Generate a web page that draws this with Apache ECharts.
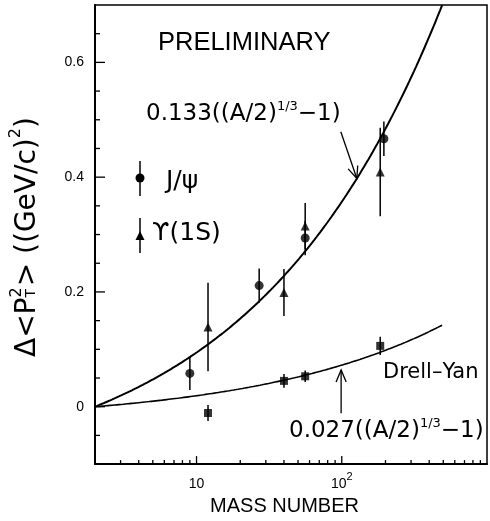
<!DOCTYPE html>
<html>
<head>
<meta charset="utf-8">
<script src="https://cdn.jsdelivr.net/npm/echarts@6/dist/echarts.min.js"></script>
<style>
  html, body { margin: 0; padding: 0; background: #fff; }
  #chart { width: 490px; height: 521px; }
</style>
</head>
<body>
<div id="chart"></div>
<script>
// Broadening of <pT^2> versus target mass number
const massJpsi = [9, 27, 56, 195];
const dptJpsi  = [0.058, 0.211, 0.294, 0.467];
const errJpsi  = [0.029, 0.030, 0.030, 0.030];

const massUpsilon = [12, 40, 56, 184];
const dptUpsilon  = [0.139, 0.199, 0.315, 0.409];
const errUpsilon  = [0.077, 0.041, 0.040, 0.077];

const massDY = [12, 40, 56, 184];
const dptDY  = [-0.011, 0.045, 0.053, 0.106];
const errDY  = [0.014, 0.012, 0.010, 0.016];

// fit curves c * ((A/2)^(1/3) - 1)
const fitQuarkonium = 0.133;
const fitDrellYan = 0.027;
const fitMassRange = [2, 491];

// axis ticks
const xRange = [2, 1000];
const yRange = [-0.1, 0.7];
const xMajorTicks = [10, 100];
const xMinorTicks = [3, 4, 5, 6, 7, 8, 9, 20, 30, 40, 50, 60, 70, 80, 90, 200, 300, 400, 500, 600, 700, 800, 900];
const yMajorTicks = [0, 0.2, 0.4, 0.6];
const yMinorTicks = [-0.05, 0.05, 0.1, 0.15, 0.25, 0.3, 0.35, 0.45, 0.5, 0.55, 0.65];

const INK = '#000';
const SANS = '"Liberation Sans", Arial, sans-serif';
const WIDE = '"DejaVu Sans", sans-serif';

function fitCurve(c) {
  const pts = [];
  const n = 160;
  const l0 = Math.log10(fitMassRange[0]), l1 = Math.log10(fitMassRange[1]);
  for (let i = 0; i <= n; i++) {
    const a = Math.pow(10, l0 + (l1 - l0) * i / n);
    pts.push([a, c * (Math.cbrt(a / 2) - 1)]);
  }
  return pts;
}
function fitAt(c, a) { return c * (Math.cbrt(a / 2) - 1); }

function errorBars(mass, val, err) {
  return {
    type: 'custom',
    silent: true,
    z: 3,
    encode: { x: 0, y: [1, 2] },
    data: mass.map((a, i) => [a, val[i] - err[i], val[i] + err[i]]),
    renderItem: (params, api) => {
      const lo = api.coord([api.value(0), api.value(1)]);
      const hi = api.coord([api.value(0), api.value(2)]);
      return { type: 'line', shape: { x1: lo[0], y1: lo[1], x2: hi[0], y2: hi[1] },
               style: { stroke: INK, lineWidth: 1.5 } };
    }
  };
}

function xTicks(values, len) {
  return {
    type: 'custom', silent: true, clip: false, z: 4,
    encode: { x: 0, y: 1 },
    data: values.map(v => [v, yRange[0]]),
    renderItem: (params, api) => {
      const p = api.coord([api.value(0), api.value(1)]);
      return { type: 'line', shape: { x1: p[0], y1: p[1], x2: p[0], y2: p[1] - len },
               style: { stroke: INK, lineWidth: 1.3 } };
    }
  };
}
function yTicks(values, len) {
  return {
    type: 'custom', silent: true, clip: false, z: 4,
    encode: { x: 0, y: 1 },
    data: values.map(v => [xRange[0], v]),
    renderItem: (params, api) => {
      const p = api.coord([api.value(0), api.value(1)]);
      return { type: 'line', shape: { x1: p[0], y1: p[1], x2: p[0] + len, y2: p[1] },
               style: { stroke: INK, lineWidth: 1.3 } };
    }
  };
}

function marker(mass, val, symbol, size) {
  return {
    type: 'scatter', symbol: symbol, symbolSize: size, z: 5, silent: true,
    itemStyle: { color: INK },
    data: mass.map((a, i) => [a, val[i]])
  };
}

// text measuring for the rotated axis title
const measureCtx = document.createElement('canvas').getContext('2d');
function textWidth(t, size) {
  measureCtx.font = size + 'px "DejaVu Sans"';
  return measureCtx.measureText(t).width;
}
function axisTitle() {
  const big = 28, sup = 16, sub = 14;
  const parts = [];
  let cx = 0;
  const put = (t, size, dy) => parts.push({ type: 'text', x: cx, y: dy,
    style: { text: t, fontSize: size, fontFamily: WIDE, fill: INK, verticalAlign: 'middle' } });
  put('\u0394<P', big, 0); cx += textWidth('\u0394<P', big);
  put('2', sup, -11); put('T', sub, 3);
  cx += Math.max(textWidth('2', sup), textWidth('T', sub)) + 1;
  put('> ((GeV/c)', big, 0); cx += textWidth('> ((GeV/c)', big);
  put('2', sup, -12); cx += textWidth('2', sup);
  put(')', big, 0);
  return { type: 'group', x: 28, y: 357, rotation: Math.PI / 2, children: parts, silent: true };
}

const formulaRich = {
  b: { fontSize: 23, fontFamily: WIDE, lineHeight: 25, verticalAlign: 'bottom' },
  s: { fontSize: 13, fontFamily: WIDE, lineHeight: 14, verticalAlign: 'top' }
};

const chart = echarts.init(document.getElementById('chart'), null, { renderer: 'canvas' });

const option = {
  backgroundColor: '#fff',
  animation: false,
  grid: { left: 95, right: -8, top: 5, bottom: 55, show: true, borderColor: INK, borderWidth: 1.5 },
  xAxis: {
    type: 'log', logBase: 10, min: xRange[0], max: xRange[1],
    axisLine: { show: true, onZero: false, lineStyle: { color: INK, width: 2 } },
    axisTick: { show: false },
    splitLine: { show: false },
    axisLabel: {
      margin: 7, color: INK,
      formatter: v => {
        const e = Math.round(Math.log10(v) * 1e6) / 1e6;
        if (e === 1) return '{b|10}';
        if (e === 2) return '{b|10}{s|2}';
        return '';
      },
      rich: {
        b: { fontSize: 14, fontFamily: SANS, color: INK, lineHeight: 20, verticalAlign: 'bottom' },
        s: { fontSize: 11, fontFamily: SANS, color: INK, lineHeight: 12, verticalAlign: 'top' }
      }
    },
    name: 'MASS NUMBER', nameLocation: 'middle', nameGap: 29,
    nameTextStyle: { fontSize: 20, fontFamily: SANS, color: INK, padding: [0, 13, 0, 0] }
  },
  yAxis: {
    type: 'value', min: yRange[0], max: yRange[1], interval: 0.1,
    axisLine: { show: true, onZero: false, lineStyle: { color: INK, width: 2 } },
    axisTick: { show: false },
    splitLine: { show: false },
    axisLabel: {
      margin: 11, color: INK, fontSize: 14, fontFamily: SANS,
      formatter: v => {
        const t = yMajorTicks.find(m => Math.abs(m - v) < 1e-9);
        return t === undefined ? '' : String(t);
      }
    }
  },
  series: [
    { type: 'line', data: fitCurve(fitQuarkonium), showSymbol: false, clip: true, silent: true,
      lineStyle: { color: INK, width: 2 }, z: 2 },
    { type: 'line', data: fitCurve(fitDrellYan), showSymbol: false, clip: true, silent: true,
      lineStyle: { color: INK, width: 1.6 }, z: 2 },
    errorBars(massJpsi, dptJpsi, errJpsi),
    errorBars(massUpsilon, dptUpsilon, errUpsilon),
    errorBars(massDY, dptDY, errDY),
    marker(massJpsi, dptJpsi, 'circle', 9),
    marker(massUpsilon, dptUpsilon, 'triangle', 9),
    marker(massDY, dptDY, 'rect', 8),
    xTicks(xMajorTicks, 8),
    xTicks(xMinorTicks, 4),
    yTicks(yMajorTicks, 10),
    yTicks(yMinorTicks, 5)
  ]
};
chart.setOption(option);

// annotations: arrows point at the fit curves
function arrow(from, to) {
  const p0 = chart.convertToPixel({ gridIndex: 0 }, from);
  const p1 = chart.convertToPixel({ gridIndex: 0 }, to);
  const ang = Math.atan2(p1[1] - p0[1], p1[0] - p0[0]);
  const L = 13, spread = 0.4;
  const b1 = [p1[0] - L * Math.cos(ang - spread), p1[1] - L * Math.sin(ang - spread)];
  const b2 = [p1[0] - L * Math.cos(ang + spread), p1[1] - L * Math.sin(ang + spread)];
  return [
    { type: 'line', shape: { x1: p0[0], y1: p0[1], x2: p1[0], y2: p1[1] }, style: { stroke: INK, lineWidth: 1.3 }, silent: true },
    { type: 'polyline', shape: { points: [b1, p1, b2] }, style: { stroke: INK, lineWidth: 1.3, fill: null }, silent: true }
  ];
}

const legendMarks = [
  { type: 'line', shape: { x1: 140, y1: 161, x2: 140, y2: 196 }, style: { stroke: INK, lineWidth: 1.5 } },
  { type: 'circle', shape: { cx: 140, cy: 178, r: 4.5 }, style: { fill: INK } },
  { type: 'text', x: 166, y: 181, style: { text: 'J/\u03c8', fontSize: 25, fontFamily: WIDE, fill: INK, verticalAlign: 'middle' } },
  { type: 'line', shape: { x1: 140, y1: 218, x2: 140, y2: 253 }, style: { stroke: INK, lineWidth: 1.5 } },
  { type: 'polygon', shape: { points: [[140, 231], [135.5, 240], [144.5, 240]] }, style: { fill: INK } },
  { type: 'text', x: 152, y: 233, style: { text: '\u03d2(1S)', fontSize: 25, fontFamily: WIDE, fill: INK, verticalAlign: 'middle' } }
];

const texts = [
  { type: 'text', x: 158, y: 43, style: { text: 'PRELIMINARY', fontSize: 25.5, fontFamily: SANS, fill: INK, verticalAlign: 'middle' } },
  { type: 'text', x: 146, y: 113, style: { text: '{b|0.133((A/2)}{s|1/3}{b|\u22121)}', rich: formulaRich, fill: INK, verticalAlign: 'middle' } },
  { type: 'text', x: 289, y: 430, style: { text: '{b|0.027((A/2)}{s|1/3}{b|\u22121)}', rich: formulaRich, fill: INK, verticalAlign: 'middle' } },
  { type: 'text', x: 383, y: 373, style: { text: 'Drell\u2013Yan', fontSize: 21, fontFamily: WIDE, fill: INK, verticalAlign: 'middle' } }
];

chart.setOption({
  graphic: [].concat(
    texts,
    legendMarks,
    [axisTitle()],
    arrow([98.5, 0.479], [127, fitAt(fitQuarkonium, 127)]),
    arrow([99, -0.0115], [99, 0.064])
  ).map(g => Object.assign({ silent: true, z: 10 }, g))
});
</script>
</body>
</html>
